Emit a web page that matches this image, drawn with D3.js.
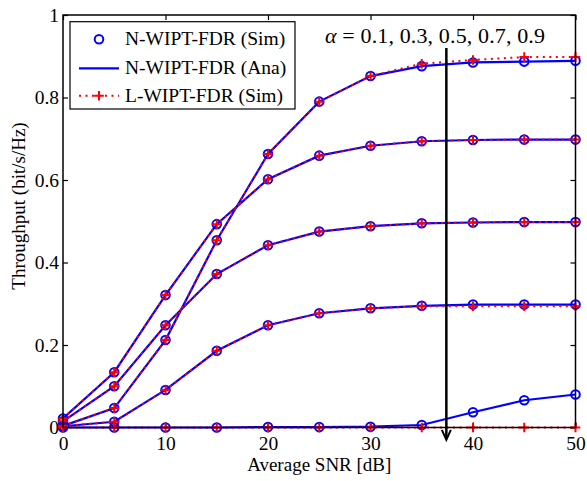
<!DOCTYPE html>
<html>
<head>
<meta charset="utf-8">
<script src="https://cdn.jsdelivr.net/npm/d3@7"></script>
<style>
  html, body { margin: 0; padding: 0; background: #fff; }
  svg { display: block; }
  text { font-family: "Liberation Serif", "Times New Roman", serif; fill: #000; }
</style>
</head>
<body>
<svg id="chart" width="587" height="481"></svg>
<script>
// Average SNR sample points (dB)
const snr = [0, 5, 10, 15, 20, 25, 30, 35, 40, 45, 50];

// Power-splitting ratios, one curve family per value
const alphas = [0.1, 0.3, 0.5, 0.7, 0.9];

// N-WIPT-FDR simulated throughput (bit/s/Hz)
const nSim01 = [0.004, 0.047, 0.212, 0.454, 0.663, 0.790, 0.852, 0.876, 0.885, 0.887, 0.889];
const nSim03 = [0.022, 0.134, 0.321, 0.493, 0.602, 0.659, 0.683, 0.694, 0.697, 0.698, 0.698];
const nSim05 = [0.015, 0.100, 0.248, 0.372, 0.442, 0.475, 0.488, 0.495, 0.497, 0.498, 0.498];
const nSim07 = [0.003, 0.014, 0.091, 0.186, 0.248, 0.277, 0.289, 0.295, 0.298, 0.298, 0.298];
const nSim09 = [0.000, 0.000, 0.000, 0.000, 0.001, 0.001, 0.002, 0.006, 0.037, 0.066, 0.080];

// N-WIPT-FDR analytical throughput
const nAna01 = [0.004, 0.047, 0.212, 0.454, 0.663, 0.790, 0.852, 0.876, 0.885, 0.887, 0.889];
const nAna03 = [0.022, 0.134, 0.321, 0.493, 0.602, 0.659, 0.683, 0.694, 0.697, 0.698, 0.698];
const nAna05 = [0.015, 0.100, 0.248, 0.372, 0.442, 0.475, 0.488, 0.495, 0.497, 0.498, 0.498];
const nAna07 = [0.003, 0.014, 0.091, 0.186, 0.248, 0.277, 0.289, 0.295, 0.298, 0.298, 0.298];
const nAna09 = [0.000, 0.000, 0.000, 0.000, 0.001, 0.001, 0.002, 0.006, 0.037, 0.066, 0.080];

// L-WIPT-FDR simulated throughput
const lSim01 = [0.004, 0.047, 0.212, 0.454, 0.663, 0.790, 0.852, 0.882, 0.891, 0.898, 0.898];
const lSim03 = [0.022, 0.134, 0.321, 0.493, 0.602, 0.659, 0.683, 0.694, 0.697, 0.698, 0.698];
const lSim05 = [0.015, 0.100, 0.248, 0.372, 0.442, 0.475, 0.488, 0.495, 0.497, 0.498, 0.498];
const lSim07 = [0.003, 0.014, 0.091, 0.186, 0.248, 0.277, 0.289, 0.294, 0.294, 0.294, 0.294];
const lSim09 = [0.000, 0.000, 0.000, 0.000, 0.000, 0.000, 0.000, 0.000, 0.000, 0.000, 0.000];

const nSim = [nSim01, nSim03, nSim05, nSim07, nSim09];
const nAna = [nAna01, nAna03, nAna05, nAna07, nAna09];
const lSim = [lSim01, lSim03, lSim05, lSim07, lSim09];

// Axis ticks
const xTicks = [0, 10, 20, 30, 40, 50];
const xTickLabels = ["0", "10", "20", "30", "40", "50"];
const yTicks = [0, 0.2, 0.4, 0.6, 0.8, 1];
const yTickLabels = ["0", "0.2", "0.4", "0.6", "0.8", "1"];

const legendLabels = ["N-WIPT-FDR (Sim)", "N-WIPT-FDR (Ana)", "L-WIPT-FDR (Sim)"];

const BLUE = "#0000ff", RED = "#ff0000";

const svg = d3.select("#chart");
const plotL = 63, plotR = 575.5, plotT = 15, plotB = 427.5;

const x = d3.scaleLinear().domain([0, 50]).range([plotL, plotR]);
const y = d3.scaleLinear().domain([0, 1]).range([plotB, plotT]);

// plot frame
svg.append("rect")
  .attr("x", plotL).attr("y", plotT)
  .attr("width", plotR - plotL).attr("height", plotB - plotT)
  .attr("fill", "#fff");

const fontSize = "19.5px";

// axes with inward ticks
const gx = svg.append("g").attr("transform", `translate(0,${plotB})`)
  .call(d3.axisBottom(x).tickValues(xTicks)
    .tickFormat((d, i) => xTickLabels[i])
    .tickSizeInner(-5).tickSizeOuter(0).tickPadding(9));
const gy = svg.append("g").attr("transform", `translate(${plotL},0)`)
  .call(d3.axisLeft(y).tickValues(yTicks)
    .tickFormat((d, i) => yTickLabels[i])
    .tickSizeInner(-5).tickSizeOuter(0).tickPadding(4));
const gt = svg.append("g").attr("transform", `translate(0,${plotT})`)
  .call(d3.axisTop(x).tickValues(xTicks).tickFormat("")
    .tickSizeInner(-5).tickSizeOuter(0));
const gr = svg.append("g").attr("transform", `translate(${plotR},0)`)
  .call(d3.axisRight(y).tickValues(yTicks).tickFormat("")
    .tickSizeInner(-5).tickSizeOuter(0));

[gx, gy, gt, gr].forEach(g => {
  g.select(".domain").remove();
  g.selectAll(".tick line").attr("stroke", "#000").attr("stroke-width", 1.2);
  g.selectAll("text")
    .style("font-family", '"Liberation Serif", "Times New Roman", serif')
    .style("font-size", fontSize).attr("fill", "#000");
});

const line = d3.line().x((d, i) => x(snr[i])).y(d => y(d));

const curves = svg.append("g");

// analytical curves (solid blue)
nAna.forEach(s => {
  curves.append("path").datum(s).attr("d", line)
    .attr("fill", "none").attr("stroke", BLUE).attr("stroke-width", 2.2);
});

// simulated N-WIPT-FDR markers (open blue circles)
nSim.forEach(s => {
  curves.append("g").selectAll("circle").data(s).join("circle")
    .attr("cx", (d, i) => x(snr[i])).attr("cy", d => y(d))
    .attr("r", 4.3).attr("fill", "none")
    .attr("stroke", BLUE).attr("stroke-width", 2);
});

// L-WIPT-FDR curves (dotted red with plus markers)
lSim.forEach(s => {
  curves.append("path").datum(s).attr("d", line)
    .attr("fill", "none").attr("stroke", RED).attr("stroke-width", 2)
    .attr("stroke-dasharray", "2,4.5");
  curves.append("g").selectAll("path").data(s).join("path")
    .attr("d", (d, i) => {
      const cx = x(snr[i]), cy = y(d), h = 4.8;
      return `M${cx - h},${cy}H${cx + h}M${cx},${cy - h}V${cy + h}`;
    })
    .attr("stroke", RED).attr("stroke-width", 2).attr("fill", "none");
});

// box border
svg.append("rect")
  .attr("x", plotL).attr("y", plotT)
  .attr("width", plotR - plotL).attr("height", plotB - plotT)
  .attr("fill", "none").attr("stroke", "#000").attr("stroke-width", 1.5);

// axis titles
svg.append("text")
  .attr("x", (plotL + plotR) / 2).attr("y", 471)
  .attr("text-anchor", "middle").style("font-size", "19px")
  .text("Average SNR [dB]");
svg.append("text")
  .attr("transform", "translate(25,206) rotate(-90)")
  .attr("text-anchor", "middle").style("font-size", "19px")
  .text("Throughput (bit/s/Hz)");

// arrow showing increasing alpha
const arrowSnr = 37.4;
const ax = x(arrowSnr), ay0 = y(0.92), ay1 = y(-0.03);
svg.append("line")
  .attr("x1", ax).attr("x2", ax).attr("y1", ay0).attr("y2", ay1 - 1)
  .attr("stroke", "#000").attr("stroke-width", 2.5);
svg.append("path")
  .attr("d", `M${ax - 4.5},${ay1 - 10}L${ax},${ay1}L${ax + 4.5},${ay1 - 10}`)
  .attr("fill", "none").attr("stroke", "#000").attr("stroke-width", 2);

const alphaText = svg.append("text")
  .attr("x", x(25.56)).attr("y", y(0.933))
  .style("font-size", "22px")
  .attr("textLength", 220).attr("lengthAdjust", "spacing");
alphaText.append("tspan").style("font-style", "italic").text("α");
alphaText.append("tspan").text(" = " + alphas.map(a => a.toFixed(1)).join(", "));

// legend
const lg = svg.append("g");
lg.append("rect").attr("x", 70).attr("y", 21.7).attr("width", 225).attr("height", 87.3)
  .attr("fill", "#fff").attr("stroke", "#000").attr("stroke-width", 1.2);
const rowY = [39.3, 68.3, 95.7];
const mx0 = 79, mx1 = 119, mc = 99;
lg.append("circle").attr("cx", mc).attr("cy", rowY[0]).attr("r", 4.3)
  .attr("fill", "none").attr("stroke", BLUE).attr("stroke-width", 2);
lg.append("line").attr("x1", mx0).attr("x2", mx1).attr("y1", rowY[1]).attr("y2", rowY[1])
  .attr("stroke", BLUE).attr("stroke-width", 2.2);
lg.append("line").attr("x1", mx0).attr("x2", mx1).attr("y1", rowY[2]).attr("y2", rowY[2])
  .attr("stroke", RED).attr("stroke-width", 2).attr("stroke-dasharray", "2,4.5");
lg.append("path")
  .attr("d", `M${mc - 4.8},${rowY[2]}H${mc + 4.8}M${mc},${rowY[2] - 4.8}V${rowY[2] + 4.8}`)
  .attr("stroke", RED).attr("stroke-width", 2);
legendLabels.forEach((t, i) => {
  lg.append("text").attr("x", 125).attr("y", rowY[i] + 6)
    .style("font-size", fontSize).text(t);
});
</script>
</body>
</html>
